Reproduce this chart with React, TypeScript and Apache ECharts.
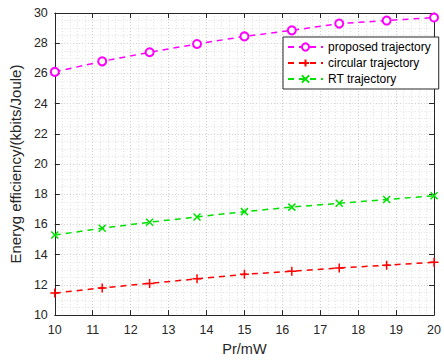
import React, { useEffect, useRef } from "react";
import * as echarts from "echarts";

const xValues = [10, 11.25, 12.5, 13.75, 15, 16.25, 17.5, 18.75, 20];
const proposed = [26.1, 26.8, 27.4, 27.95, 28.45, 28.85, 29.3, 29.5, 29.7];
const circular = [11.46, 11.8, 12.1, 12.4, 12.7, 12.9, 13.12, 13.3, 13.5];
const rt = [15.3, 15.75, 16.15, 16.5, 16.85, 17.15, 17.4, 17.65, 17.9];
const seriesNames = ["proposed trajectory", "circular trajectory", "RT trajectory"];

const FONT = "Liberation Sans, Arial, sans-serif";
const AX = "#262626";

const pairs = (ys: number[]) => xValues.map((x, i) => [x, ys[i]]);

export default function App() {
  const ref = useRef<HTMLDivElement>(null);
  useEffect(() => {
    if (!ref.current) return;
    const chart = echarts.init(ref.current, null, { renderer: "svg" });
    const plus = "path://M0,-5L0,5M-5,0L5,0";
    const cross = "path://M-4,-4L4,4M-4,4L4,-4";
    const baseAxisLine = { show: true, lineStyle: { color: AX, width: 1 } };
    const tick = { show: true, inside: true, length: 5, lineStyle: { color: AX } };
    const split = { show: true, lineStyle: { color: "#cccccc", type: [1, 2] as any, width: 1 } };
    const minorSplit = { show: true, lineStyle: { color: "#e2e2e2", type: [1, 2] as any, width: 1 } };
    const label = { color: AX, fontSize: 12.5, fontFamily: FONT };
    chart.setOption({
      animation: false,
      backgroundColor: "#fff",
      grid: { left: 47, right: 8, top: 13, bottom: 40, containLabel: false },
      legend: {
        orient: "vertical",
        left: 283,
        top: 37,
        padding: [3, 8, 3, 4],
        itemGap: 2,
        itemWidth: 35,
        itemHeight: 9,
        borderColor: "#262626",
        borderWidth: 1,
        borderRadius: 0,
        backgroundColor: "#fff",
        textStyle: { color: "#000", fontSize: 12, fontFamily: FONT, lineHeight: 14 },
        data: seriesNames,
      },
      xAxis: [
        {
          type: "value",
          min: 10,
          max: 20,
          interval: 1,
          name: "Pr/mW",
          nameLocation: "middle",
          nameGap: 25,
          nameTextStyle: { color: AX, fontSize: 14.5, fontFamily: FONT },
          axisLine: baseAxisLine,
          axisTick: tick,
          axisLabel: { ...label, margin: 8 },
          splitLine: split,
          minorTick: { show: false, splitNumber: 5 },
          minorSplitLine: minorSplit,
        },
        {
          type: "value",
          position: "top",
          min: 10,
          max: 20,
          interval: 1,
          axisLine: baseAxisLine,
          axisTick: tick,
          axisLabel: { show: false },
          splitLine: { show: false },
        },
      ],
      yAxis: [
        {
          type: "value",
          min: 10,
          max: 30,
          interval: 2,
          name: "Eneryg efficiency/(kbits/Joule)",
          nameLocation: "middle",
          nameGap: 27,
          nameTextStyle: { color: AX, fontSize: 15, fontFamily: FONT },
          axisLine: baseAxisLine,
          axisTick: tick,
          axisLabel: { ...label, margin: 7 },
          splitLine: split,
          minorTick: { show: false, splitNumber: 4 },
          minorSplitLine: minorSplit,
        },
        {
          type: "value",
          position: "right",
          min: 10,
          max: 30,
          interval: 2,
          axisLine: baseAxisLine,
          axisTick: tick,
          axisLabel: { show: false },
          splitLine: { show: false },
        },
      ],
      series: [
        {
          name: seriesNames[0],
          type: "line",
          data: pairs(proposed),
          symbol: "emptyCircle",
          symbolSize: 8,
          itemStyle: { color: "#ff00ff", borderColor: "#ff00ff", borderWidth: 1.5 },
          lineStyle: { color: "#ff00ff", width: 1.5, type: [6, 5] },
          z: 5,
        },
        {
          name: seriesNames[1],
          type: "line",
          data: pairs(circular),
          symbol: plus,
          symbolSize: 9,
          itemStyle: { color: "#ff0000", borderColor: "#ff0000", borderWidth: 1.5 },
          lineStyle: { color: "#ff0000", width: 1.5, type: [6, 5] },
          z: 5,
        },
        {
          name: seriesNames[2],
          type: "line",
          data: pairs(rt),
          symbol: cross,
          symbolSize: 7,
          itemStyle: { color: "#00e000", borderColor: "#00e000", borderWidth: 1.5 },
          lineStyle: { color: "#00e000", width: 1.5, type: [6, 5] },
          z: 5,
        },
      ],
    });
    return () => chart.dispose();
  }, []);
  return <div ref={ref} style={{ position: "fixed", left: 0, top: 0, width: 444, height: 361 }} />;
}
